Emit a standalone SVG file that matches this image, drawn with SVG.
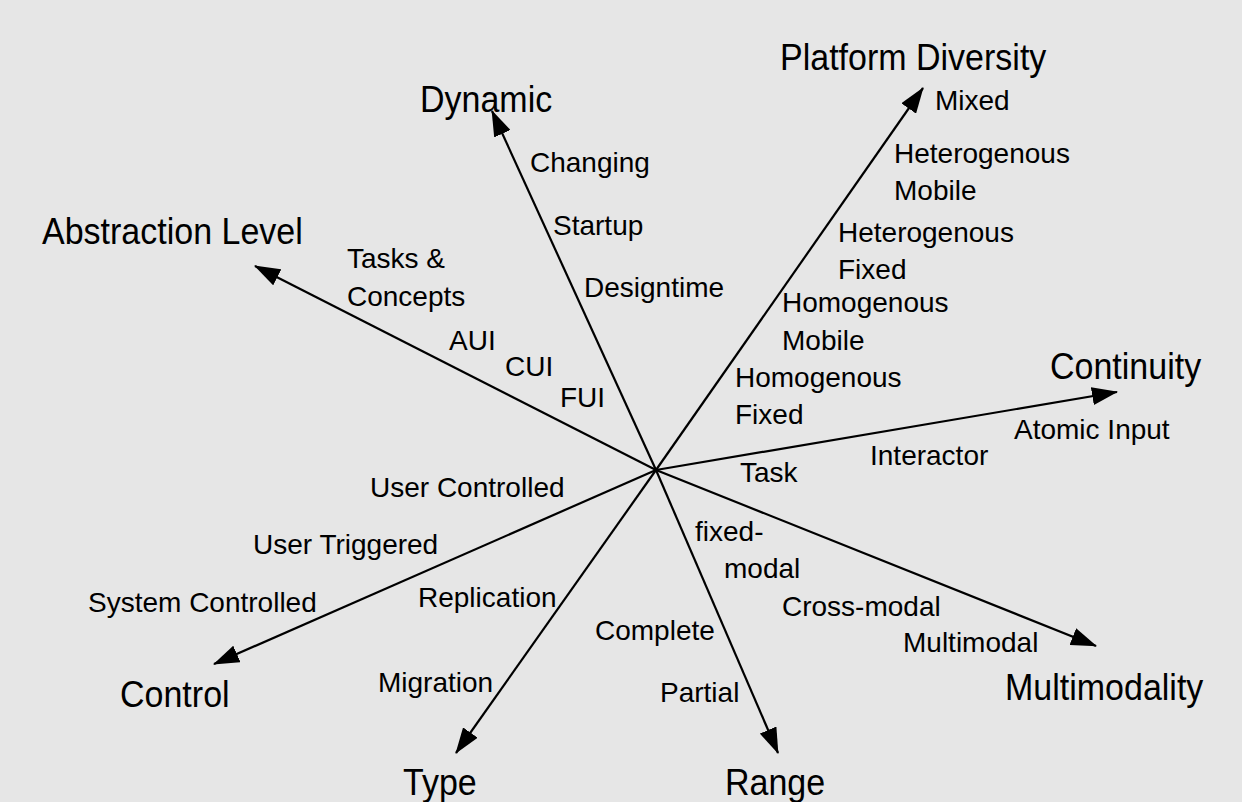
<svg xmlns="http://www.w3.org/2000/svg" width="1242" height="802" viewBox="0 0 1242 802">
  <style>
    text { font-family: "Liberation Sans", Arial, sans-serif; fill: #000; }
    .ax { font-size: 34px; }
    .lb { font-size: 28px; }
    .axis { stroke: #000; stroke-width: 2.2; fill: none; marker-end: url(#arr); }
  </style>
  <defs>
    <marker id="arr" markerUnits="userSpaceOnUse" markerWidth="26" markerHeight="18" refX="25" refY="9" orient="auto">
      <path d="M0,0 L26,9 L0,18 Z" fill="#000"/>
    </marker>
  </defs>
  <rect width="1242" height="802" fill="#e6e6e6"/>
  <g id="connectors">
    <line class="axis" x1="656" y1="470" x2="255" y2="266"/>
    <line class="axis" x1="656" y1="470" x2="492" y2="111"/>
    <line class="axis" x1="656" y1="470" x2="923" y2="88"/>
    <line class="axis" x1="656" y1="470" x2="1117" y2="392"/>
    <line class="axis" x1="656" y1="470" x2="1096" y2="646"/>
    <line class="axis" x1="656" y1="470" x2="214" y2="664"/>
    <line class="axis" x1="656" y1="470" x2="456" y2="753"/>
    <line class="axis" x1="656" y1="470" x2="778" y2="753"/>
  </g>
  <g id="abstraction">
    <text class="ax" transform="translate(42,244) scale(1,1.1)">Abstraction Level</text>
    <text class="lb" x="347" y="268">Tasks &amp;</text>
    <text class="lb" x="347" y="306">Concepts</text>
    <text class="lb" x="449" y="350">AUI</text>
    <text class="lb" x="505" y="376">CUI</text>
    <text class="lb" x="560" y="407">FUI</text>
  </g>
  <g id="dynamic">
    <text class="ax" transform="translate(420,112) scale(1,1.1)">Dynamic</text>
    <text class="lb" x="530" y="172">Changing</text>
    <text class="lb" x="553" y="235">Startup</text>
    <text class="lb" x="584" y="297">Designtime</text>
  </g>
  <g id="platform">
    <text class="ax" transform="translate(780,70) scale(1,1.1)">Platform Diversity</text>
    <text class="lb" x="935" y="110">Mixed</text>
    <text class="lb" x="894" y="163">Heterogenous</text>
    <text class="lb" x="894" y="200">Mobile</text>
    <text class="lb" x="838" y="242">Heterogenous</text>
    <text class="lb" x="838" y="279">Fixed</text>
    <text class="lb" x="782" y="312">Homogenous</text>
    <text class="lb" x="782" y="350">Mobile</text>
    <text class="lb" x="735" y="387">Homogenous</text>
    <text class="lb" x="735" y="424">Fixed</text>
  </g>
  <g id="continuity">
    <text class="ax" transform="translate(1050,379) scale(1,1.1)">Continuity</text>
    <text class="lb" x="1014" y="439">Atomic Input</text>
    <text class="lb" x="870" y="465">Interactor</text>
    <text class="lb" x="740" y="482">Task</text>
  </g>
  <g id="multimodality">
    <text class="ax" transform="translate(1005,700) scale(1,1.1)">Multimodality</text>
    <text class="lb" x="695" y="541">fixed-</text>
    <text class="lb" x="724" y="578">modal</text>
    <text class="lb" x="782" y="616">Cross-modal</text>
    <text class="lb" x="903" y="652">Multimodal</text>
  </g>
  <g id="range">
    <text class="ax" transform="translate(725,795) scale(1,1.1)">Range</text>
    <text class="lb" x="595" y="640">Complete</text>
    <text class="lb" x="660" y="702">Partial</text>
  </g>
  <g id="type">
    <text class="ax" transform="translate(403,795) scale(1,1.1)">Type</text>
    <text class="lb" x="418" y="607">Replication</text>
    <text class="lb" x="378" y="692">Migration</text>
  </g>
  <g id="control">
    <text class="ax" transform="translate(120,707) scale(1,1.1)">Control</text>
    <text class="lb" x="370" y="497">User Controlled</text>
    <text class="lb" x="253" y="554">User Triggered</text>
    <text class="lb" x="88" y="612">System Controlled</text>
  </g>
</svg>
